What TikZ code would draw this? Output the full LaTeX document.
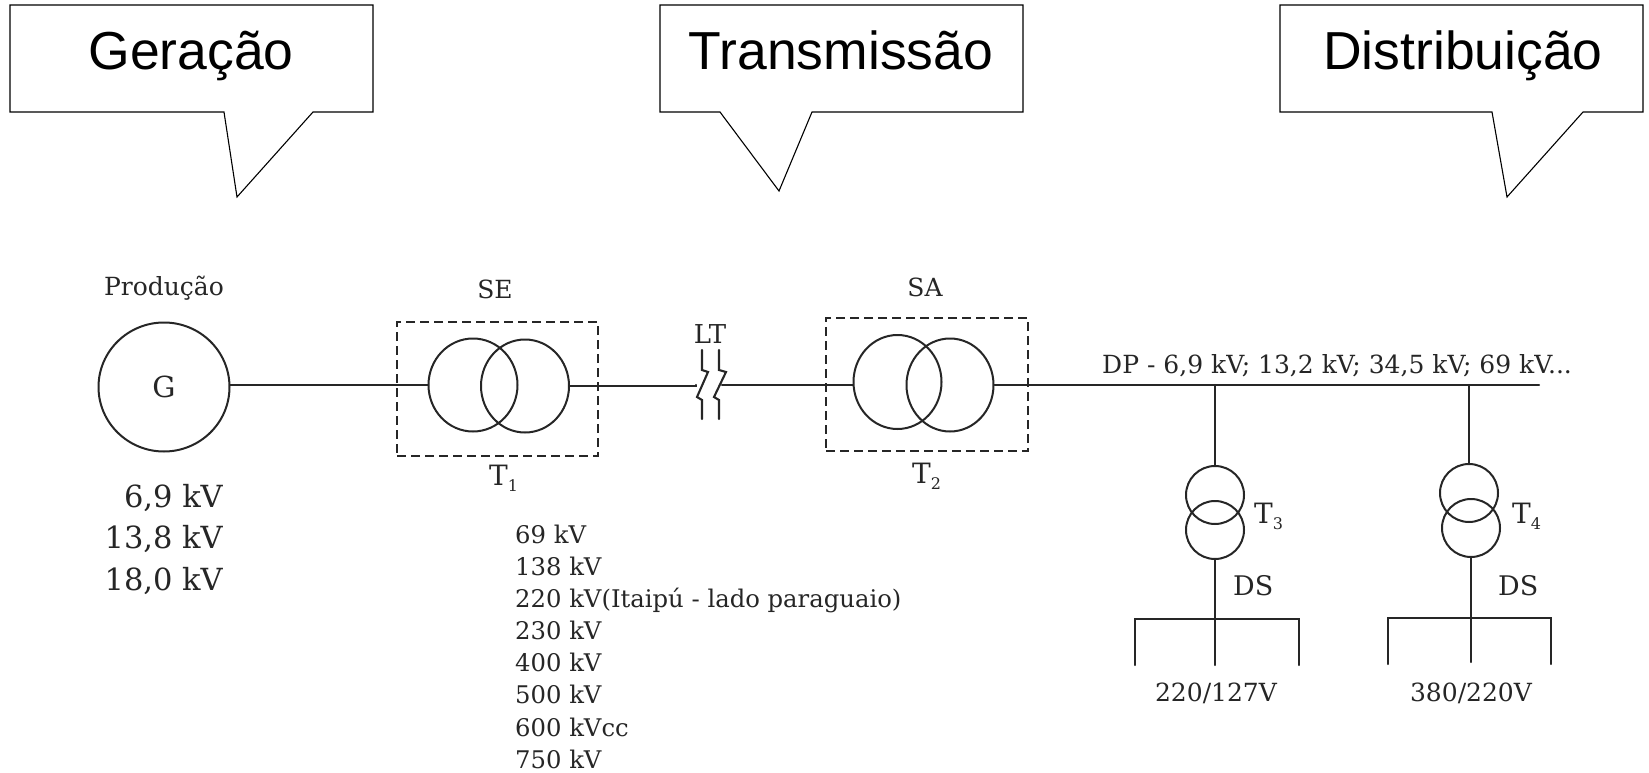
\documentclass[tikz,border=0pt]{standalone}
\usetikzlibrary{shapes.geometric}
\usepackage{fontspec}
\setmainfont{DejaVu Serif}
\newfontfamily\calloutfont{Liberation Sans}
\newcommand{\subidx}[1]{\raisebox{-6pt}{\fontsize{16}{16}\selectfont #1}}
\tikzset{
  wire/.style={line width=2.1pt,black!85,line cap=round},
  coil/.style 2 args={ellipse,draw=black!85,line width=2pt,inner sep=0pt,minimum width=#1,minimum height=#2},
  dashbox/.style={draw=black!85,line width=2pt,dash pattern=on 9pt off 5pt,inner sep=0pt},
  calloutshape/.style={draw=black,line width=1.1pt,fill=white},
  calloutlabel/.style={font=\calloutfont\fontsize{53.5}{53.5}\selectfont,anchor=base,inner sep=0pt},
  lab/.style={font=\fontsize{25}{25}\selectfont,anchor=base,inner sep=0pt,text=black!85},
  labw/.style={lab,anchor=base west},
  listlab/.style={font=\fontsize{24.3}{24.3}\selectfont,anchor=base west,inner sep=0pt,text=black!85},
  tlab/.style={font=\fontsize{28}{28}\selectfont,anchor=base west,inner sep=0pt,text=black!85},
  big/.style={font=\fontsize{30.5}{30.5}\selectfont,anchor=base east,inner sep=0pt,text=black!85}
}
\begin{document}
\begin{tikzpicture}[x=1pt,y=-1pt]
\useasboundingbox (0,0) rectangle (1649,773);
% callouts
\draw[calloutshape] (10,5) -- (373,5) -- (373,112) -- (313,112) -- (237,197) -- (224,112) -- (10,112) -- cycle;
\node[calloutlabel] (cg) at (191,70) {Geração};
\draw[calloutshape] (660,5) -- (1023,5) -- (1023,112) -- (812,112) -- (779,191) -- (720,112) -- (660,112) -- cycle;
\node[calloutlabel] (ct) at (841,70) {Transmissão};
\draw[calloutshape] (1280,5) -- (1643,5) -- (1643,112) -- (1583,112) -- (1507,197) -- (1492,112) -- (1280,112) -- cycle;
\node[calloutlabel] (cd) at (1463,70) {Distribuição};
% equipment
\node[coil={131pt}{129pt}] (G) at (164,387) {};
\node[font=\fontsize{29}{29}\selectfont,anchor=base,inner sep=0pt,text=black!85] (Gl) at (164,397) {G};
\node[dashbox,minimum width=201pt,minimum height=134pt] (SE) at (497.5,389) {};
\node[coil={89pt}{93pt}] (t1a) at (473,385) {};
\node[coil={88pt}{93pt}] (t1b) at (525,386) {};
\node[dashbox,minimum width=202pt,minimum height=133pt] (SA) at (927,384.5) {};
\node[coil={88pt}{94pt}] (t2a) at (897.5,382) {};
\node[coil={87pt}{93pt}] (t2b) at (950,385) {};
\node[coil={58pt}{58pt}] (t3a) at (1215,495) {};
\node[coil={58pt}{58pt}] (t3b) at (1215,530) {};
\node[coil={58pt}{58pt}] (t4a) at (1469,493) {};
\node[coil={58pt}{58pt}] (t4b) at (1471,528) {};
% free ends
\coordinate (bk1) at (696,385);
\coordinate (bk2) at (722,385);
\coordinate (busend) at (1539,385);
\coordinate (j3) at (1215,385);
\coordinate (j4) at (1469,385);
\coordinate (b3l) at (1135,619);
\coordinate (e3l) at (1135,665);
\coordinate (b3r) at (1299,619);
\coordinate (e3r) at (1299,665);
\coordinate (e3) at (1215,665);
\coordinate (e4) at (1471,662);
\coordinate (b4l) at (1388,618);
\coordinate (e4l) at (1388,664);
\coordinate (b4r) at (1551,618);
\coordinate (e4r) at (1551,664);
% connectors
\draw[wire] (G.east |- t1a.west) -- (t1a.west);
\draw[wire] (t1b.east) -- (t1b.east -| bk1) -- (bk1);
\draw[wire] (bk2) -- (bk2 -| t2a.west);
\draw[wire] (t2b.east) -- (busend);
\draw[wire] (j3) -- (t3a.north);
\draw[wire] (j4) -- (t4a.north);
\draw[wire] (t3b.south) -- (e3);
\draw[wire] (t4b.south) -- (e4);
\draw[wire] (e3l) -- (b3l) -- (b3r) -- (e3r);
\draw[wire] (e4l) -- (b4l) -- (b4r) -- (e4r);
% line break symbol
\draw[wire] (702,350) -- (702,370) -- (708,372) -- (697,397) -- (702,400) -- (702,419);
\draw[wire] (719,350) -- (719,370) -- (726,372) -- (714,397) -- (719,400) -- (719,419);
% labels
\node[lab] (prod) at (164,295) {Produção};
\node[lab] (sel) at (495,298) {SE};
\node[lab] (sal) at (925,296) {SA};
\node[lab,font=\fontsize{26}{26}\selectfont] (lt) at (710,343) {LT};
\node[tlab] (T1) at (489,485) {T\subidx{1}};
\node[tlab] (T2) at (912,483) {T\subidx{2}};
\node[tlab] (T3) at (1254,523) {T\subidx{3}};
\node[tlab] (T4) at (1512,523) {T\subidx{4}};
\node[labw] (dp) at (1102,373) {DP - 6,9 kV; 13,2 kV; 34,5 kV; 69 kV...};
\node[tlab,font=\fontsize{27}{27}\selectfont] (ds1) at (1233,595) {DS};
\node[tlab,font=\fontsize{27}{27}\selectfont] (ds2) at (1498,595) {DS};
\node[lab] (v1) at (1216,701) {220/127V};
\node[lab] (v2) at (1471,701) {380/220V};
\node[big] (g1) at (223,507) {6,9 kV};
\node[big] (g2) at (223,548) {13,8 kV};
\node[big] (g3) at (223,590) {18,0 kV};
\node[listlab] (l1) at (515,543) {69 kV};
\node[listlab] (l2) at (515,575) {138 kV};
\node[listlab] (l3) at (515,607) {220 kV(Itaipú - lado paraguaio)};
\node[listlab] (l4) at (515,639) {230 kV};
\node[listlab] (l5) at (515,671) {400 kV};
\node[listlab] (l6) at (515,703) {500 kV};
\node[listlab] (l7) at (515,736) {600 kVcc};
\node[listlab] (l8) at (515,768) {750 kV};
\end{tikzpicture}
\end{document}
